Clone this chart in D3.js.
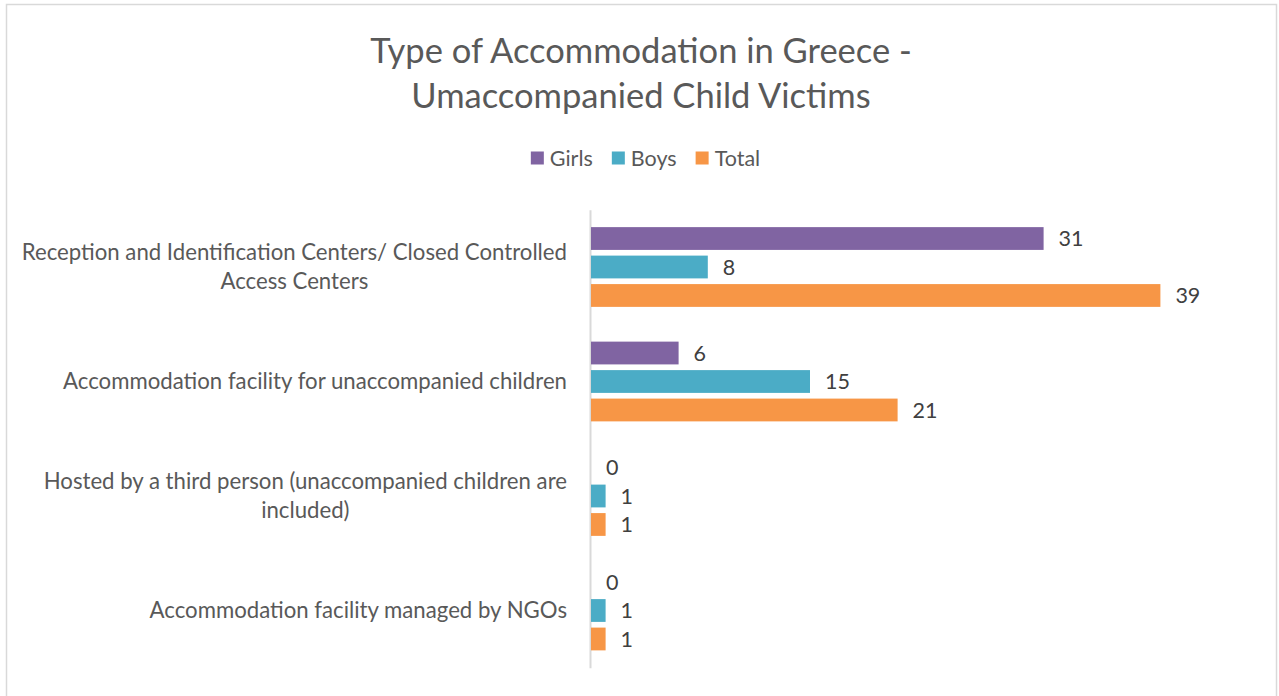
<!DOCTYPE html>
<html>
<head>
<meta charset="utf-8">
<script src="https://cdn.jsdelivr.net/npm/d3@7"></script>
<style>
  html, body { margin: 0; padding: 0; background: #fff; }
  svg { display: block; font-family: Lato, "Open Sans", sans-serif; }
</style>
</head>
<body>
<svg id="chart" width="1279" height="696"></svg>
<script>
// chart data
const categories = [
  "Reception and Identification Centers/ Closed Controlled Access Centers",
  "Accommodation facility for unaccompanied children",
  "Hosted by a third person (unaccompanied children are included)",
  "Accommodation facility managed by NGOs"
];
const seriesNames = ["Girls", "Boys", "Total"];
const girls = [31, 6, 0, 0];
const boys = [8, 15, 1, 1];
const total = [39, 21, 1, 1];
const titleLines = ["Type of Accommodation in Greece -", "Umaccompanied Child Victims"];

const colors = { Girls: "#8064A2", Boys: "#4BACC6", Total: "#F79646" };
const valuesBySeries = { Girls: girls, Boys: boys, Total: total };

const width = 1279, height = 696;
const svg = d3.select("#chart");

// outer frame
svg.append("rect")
  .attr("x", 6.5).attr("y", 4.5)
  .attr("width", 1270).attr("height", 710)
  .attr("fill", "none")
  .attr("stroke", "#d9d9d9")
  .attr("stroke-width", 1.5);

// title
svg.append("text")
  .attr("text-anchor", "middle")
  .attr("fill", "#595959")
  .style("font-size", "34.5px")
  .selectAll("tspan")
  .data(titleLines)
  .join("tspan")
  .attr("x", 641)
  .attr("y", (d, i) => 63 + i * 45)
  .text(d => d);

// scales
const plot = { left: 590, right: 1247, top: 209.75, bottom: 667.75 };

const x = d3.scaleLinear()
  .domain([0, 45])
  .range([plot.left, plot.right]);

const y0 = d3.scaleBand()
  .domain(categories)
  .range([plot.top, plot.bottom])
  .padding(0);

const y1 = d3.scaleBand()
  .domain(seriesNames)
  .range([0, y0.bandwidth()])
  .paddingInner(0.2)
  .paddingOuter(0.61);

// legend
const legend = svg.append("g");
let lx = 0;
seriesNames.forEach(name => {
  const g = legend.append("g").attr("transform", `translate(${lx},0)`);
  g.append("rect")
    .attr("x", 0).attr("y", -6.5)
    .attr("width", 13).attr("height", 13)
    .attr("fill", colors[name]);
  const t = g.append("text")
    .attr("x", 19).attr("y", 0)
    .attr("dy", "0.35em")
    .attr("fill", "#595959")
    .style("font-size", "21.5px")
    .text(name);
  lx += 19 + t.node().getComputedTextLength() + 19;
});
const legendWidth = lx - 19;
legend.attr("transform", `translate(${645.5 - legendWidth / 2},158)`);

// axis line (category axis)
const yAxis = d3.axisLeft(y0).tickSize(0).tickFormat("");
svg.append("g")
  .attr("transform", `translate(${plot.left},0)`)
  .call(yAxis)
  .call(g => g.select(".domain")
    .attr("stroke", "#d9d9d9")
    .attr("stroke-width", 2));

// category labels, wrapped and centered within a right-aligned block
const labelRight = 567;
const lineHeight = 29;
const maxLabelWidth = 560;
const labelSize = "22.2px";
const measurer = svg.append("text").style("font-size", labelSize).attr("visibility", "hidden");
function measure(s) {
  measurer.text(s);
  return measurer.node().getComputedTextLength();
}
function wrap(s) {
  const words = s.split(" ");
  const lines = [];
  let line = "";
  words.forEach(w => {
    const test = line ? line + " " + w : w;
    if (line && measure(test) > maxLabelWidth) {
      lines.push(line);
      line = w;
    } else {
      line = test;
    }
  });
  lines.push(line);
  return lines;
}

categories.forEach(cat => {
  const lines = wrap(cat);
  const blockW = d3.max(lines, measure);
  const cy = y0(cat) + y0.bandwidth() / 2;
  svg.append("text")
    .attr("text-anchor", "middle")
    .attr("fill", "#595959")
    .style("font-size", labelSize)
    .selectAll("tspan")
    .data(lines)
    .join("tspan")
    .attr("x", labelRight - blockW / 2)
    .attr("y", (d, i) => cy + (i - (lines.length - 1) / 2) * lineHeight)
    .attr("dy", "0.35em")
    .text(d => d);
});
measurer.remove();

// bars
const rows = categories.map((c, i) => ({
  category: c,
  values: seriesNames.map(s => ({ series: s, value: valuesBySeries[s][i] }))
}));

const groups = svg.append("g")
  .selectAll("g")
  .data(rows)
  .join("g")
  .attr("transform", d => `translate(0,${y0(d.category)})`);

groups.selectAll("rect")
  .data(d => d.values)
  .join("rect")
  .attr("x", x(0) + 1)
  .attr("y", d => y1(d.series))
  .attr("width", d => Math.max(0, x(d.value) - x(0)))
  .attr("height", y1.bandwidth())
  .attr("fill", d => colors[d.series]);

groups.selectAll("text")
  .data(d => d.values)
  .join("text")
  .attr("x", d => x(d.value) + 16)
  .attr("y", d => y1(d.series) + y1.bandwidth() / 2)
  .attr("dy", "0.35em")
  .attr("fill", "#404040")
  .style("font-size", "21.5px")
  .text(d => d.value);
</script>
</body>
</html>
